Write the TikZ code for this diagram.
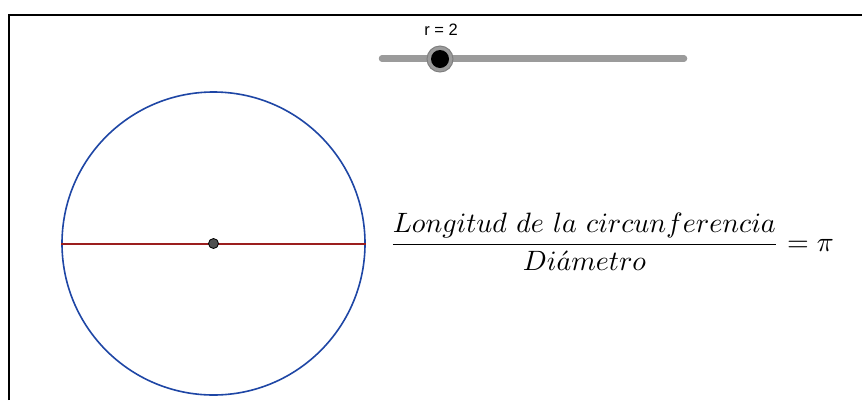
\documentclass[tikz,border=0pt]{standalone}
\usepackage{fontspec}
\newfontfamily\slfont{Liberation Sans}
\definecolor{circblue}{RGB}{30,70,165}
\definecolor{segred}{RGB}{155,30,30}
\definecolor{slgray}{RGB}{155,155,155}
\definecolor{ptgray}{RGB}{80,80,80}
\begin{document}
\begin{tikzpicture}[x=1pt,y=-1pt,
  frame/.style={line width=2.5pt,black},
  circ/.style={draw=circblue,line width=1.6pt},
  seg/.style={draw=segred,line width=2pt},
  ctrpt/.style={circle,fill=ptgray,draw=black,line width=0.8pt,minimum size=10pt,inner sep=0pt},
  bar/.style={draw=slgray,line width=6.5pt,line cap=round},
  knobring/.style={circle,fill=slgray,draw=gray,line width=1pt,minimum size=26pt,inner sep=0pt},
  knob/.style={circle,fill=black,minimum size=18pt,inner sep=0pt}]
\useasboundingbox (0,0) rectangle (862,400);
\fill[white] (0,0) rectangle (862,400);
% frame
\coordinate (fl) at (9,400);
\coordinate (fc) at (9,15);
\coordinate (fr) at (862,15);
\draw[frame] (fl) -- (fc) -- (fr);
% slider
\coordinate (sa) at (382,58.5);
\coordinate (sb) at (684,58.5);
\draw[bar] (sa) -- (sb);
\node[knobring] (kr) at (440,59) {};
\node[knob] (k) at (440,59) {};
\node[font=\slfont\fontsize{16.5}{19}\selectfont] (lab) at (441,30) {r = 2};
% circle
\node[circle,circ,minimum size=303pt,inner sep=0pt] (C) at (213.5,243.5) {};
\draw[seg] (C.west) -- (C.east);
\node[ctrpt] (O) at (213.5,243.5) {};
% formula
\node[anchor=west,scale=2.8,inner sep=0pt] (F) at (389,242) {$\displaystyle\frac{Longitud\ de\ la\ circunferencia}{Di\acute{a}metro}=\pi$};
\end{tikzpicture}
\end{document}
